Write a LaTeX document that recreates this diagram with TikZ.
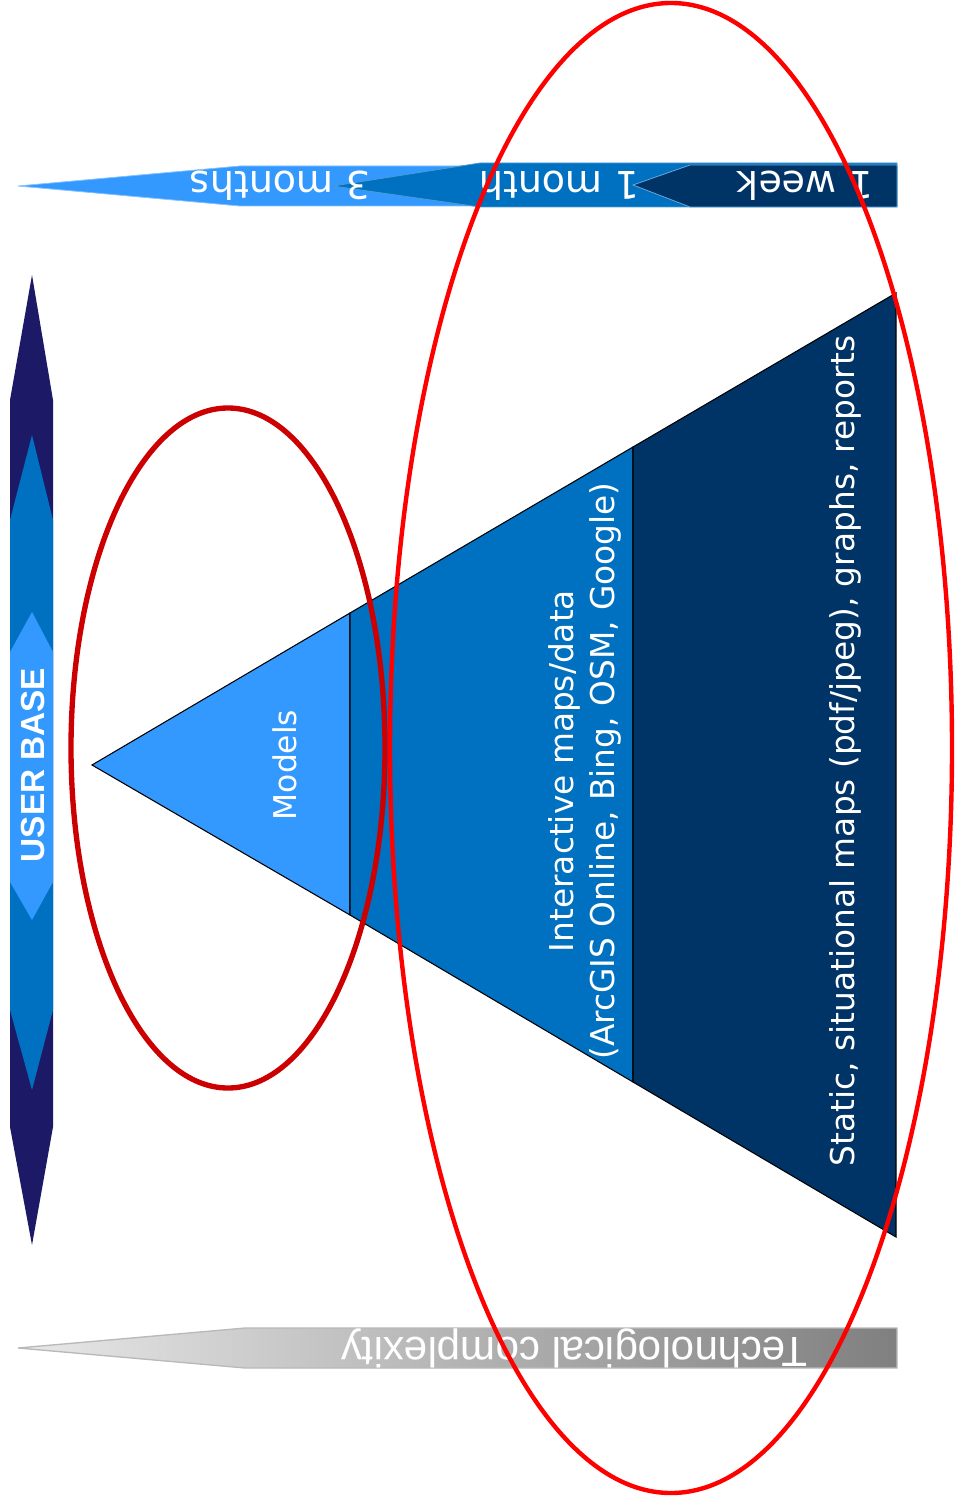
\documentclass[tikz,border=0pt]{standalone}
\usepackage{fontspec}
\setmainfont{DejaVu Sans}
\newfontfamily\arialf{Liberation Sans}
\definecolor{lightb}{HTML}{3399FF}
\definecolor{midb}{HTML}{0070C0}
\definecolor{darkb}{HTML}{003366}
\definecolor{navyb}{HTML}{1C1A66}
\definecolor{redA}{HTML}{FF0000}
\definecolor{redB}{HTML}{CC0000}
\tikzset{
  seg/.style={draw=black,line width=0.8pt},
  wtext/.style={text=white,font=\fontsize{24.6}{31}\selectfont,align=center,inner sep=0pt},
  ttext/.style={text=white,font=\fontsize{28.6}{33}\selectfont,inner sep=0pt,rotate=180},
}
\begin{document}
\begin{tikzpicture}[x=0.75pt,y=-0.75pt]
\useasboundingbox (0,0) rectangle (960,1501);
% time bar
\fill[lightb,draw=lightb!60!white,line width=0.6pt] (18,186) -- (240,166) -- (897,166) -- (897,206) -- (240,206) -- cycle;
\fill[midb,draw=midb!70!white,line width=0.6pt] (333,186) -- (480,163) -- (897,163) -- (897,207) -- (480,207) -- cycle;
\fill[darkb,draw=midb!60!white,line width=0.6pt] (633,185) -- (690,165) -- (897,165) -- (897,207) -- (690,207) -- cycle;
\node[ttext] (t3) at (280,186) {3 months};
\node[ttext] (t2) at (559,186) {1 month};
\node[ttext] (t1) at (805,186) {1 week};
% complexity bar
\shade[left color=gray!18,right color=gray!100!black!100,draw=gray!55,line width=1pt] (18,1348) -- (245,1328) -- (897,1328) -- (897,1368) -- (245,1368) -- cycle;
\node[text=white,font=\arialf\fontsize{31.6}{36}\selectfont,inner sep=0pt,rotate=180] (tc) at (574,1348) {Technological complexity};
% user base double arrow
\fill[navyb] (32,275) -- (53,400) -- (53,1127) -- (32,1245) -- (10,1127) -- (10,400) -- cycle;
\fill[midb] (32,435) -- (53,520) -- (53,1010) -- (32,1090) -- (10,1010) -- (10,520) -- cycle;
\fill[lightb] (32,612) -- (53,652) -- (53,882) -- (32,920) -- (10,882) -- (10,652) -- cycle;
\node[text=white,font=\arialf\bfseries\fontsize{25}{30}\selectfont,inner sep=0pt,rotate=90] (ub) at (33,765) {USER BASE};
% pyramid
\path[seg,fill=lightb] (92,765) -- (350,613) -- (350,915) -- cycle;
\path[seg,fill=midb] (350,613) -- (633,447) -- (633,1082) -- (350,915) -- cycle;
\path[seg,fill=darkb] (633,447) -- (896,293) -- (896,1237) -- (633,1082) -- cycle;
\node[wtext,font=\fontsize{23.5}{30}\selectfont,rotate=90] (models) at (285,765) {Models};
\node[wtext,rotate=90] (inter) at (585,771) {Interactive maps/data\\(ArcGIS Online, Bing, OSM, Google)};
\node[wtext,rotate=90] (static) at (845,751) {Static, situational maps (pdf/jpeg), graphs, reports};
% ellipses
\draw[line width=4pt,redB] (228,748) ellipse [x radius=157, y radius=340];
\draw[line width=3.3pt,redA] (671,748) ellipse [x radius=281, y radius=745];
\end{tikzpicture}
\end{document}
